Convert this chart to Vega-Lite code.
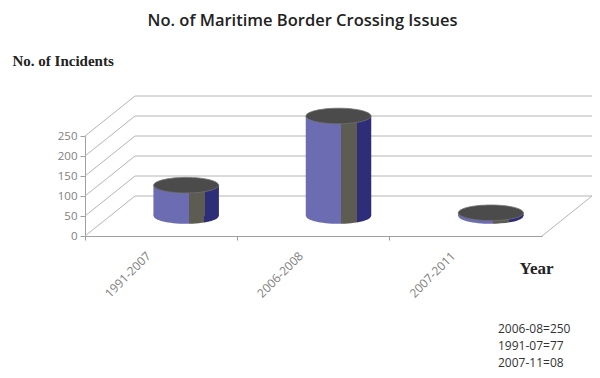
{
  "$schema": "https://vega.github.io/schema/vega-lite/v6.json",
  "width": 457,
  "height": 100,
  "autosize": {"type": "none"},
  "padding": {"left": 85, "top": 136, "right": 58, "bottom": 142},
  "background": "white",
  "title": {
    "text": "No. of Maritime Border Crossing Issues",
    "font": "Open Sans",
    "fontSize": 16.5,
    "fontWeight": 600,
    "color": "#222222",
    "anchor": "middle",
    "dx": -11,
    "offset": 24
  },
  "config": {"view": {"stroke": null}, "axisY": {"labelOverlap": false, "tickCount": 6}},
  "datasets": {
    "incidents": [
      {"period": "1991-2007", "value": 77, "note": "1991-07=77"},
      {"period": "2006-2008", "value": 250, "note": "2006-08=250"},
      {"period": "2007-2011", "value": 8, "note": "2007-11=08"}
    ],
    "levels": [
      {"level": 0}, {"level": 50}, {"level": 100}, {"level": 150}, {"level": 200}, {"level": 250}
    ]
  },
  "data": {"name": "incidents"},
  "layer": [
    {
      "data": {"name": "levels"},
      "mark": {"type": "rule", "color": "#b4b4b4", "strokeWidth": 1, "xOffset": 50, "x2Offset": 50, "yOffset": -40},
      "encoding": {
        "x": {
          "datum": "1991-2007",
          "type": "nominal",
          "bandPosition": 0,
          "scale": {"paddingInner": 0, "paddingOuter": 0},
          "axis": {
            "title": "Year",
            "titleX": 434,
            "titleY": 32,
            "titleAlign": "left",
            "titleBaseline": "middle",
            "titleFont": "Liberation Serif",
            "titleFontSize": 17,
            "titleFontWeight": "bold",
            "titleColor": "#222222",
            "bandPosition": 0,
            "labelAngle": -45,
            "labelAlign": "right",
            "labelBaseline": "top",
            "labelOffset": -16,
            "labelPadding": 10,
            "labelFont": "Open Sans",
            "labelFontSize": 12,
            "labelColor": "#808080",
            "ticks": true,
            "tickSize": 4,
            "tickColor": "#999999",
            "domainColor": "#a0a0a0",
            "grid": false
          }
        },
        "x2": {"datum": "2007-2011", "bandPosition": 1},
        "y": {
          "field": "level",
          "type": "quantitative",
          "scale": {"domain": [0, 250], "nice": false},
          "axis": {
            "tickCount": 6,
            "grid": false,
            "labelOverlap": false,
            "domainColor": "#a0a0a0",
            "tickColor": "#a0a0a0",
            "tickSize": 5,
            "labelColor": "#808080",
            "labelFont": "Open Sans",
            "labelFontSize": 11.5,
            "labelPadding": 3,
            "title": "No. of Incidents",
            "titleAngle": 0,
            "titleX": -73,
            "titleY": -76,
            "titleAlign": "left",
            "titleBaseline": "middle",
            "titleFont": "Liberation Serif",
            "titleFontSize": 15,
            "titleFontWeight": "bold",
            "titleColor": "#222222"
          }
        }
      }
    },
    {
      "data": {"name": "levels"},
      "mark": {"type": "rule", "color": "#b4b4b4", "strokeWidth": 1, "x2Offset": 50, "y2Offset": -40},
      "encoding": {
        "x": {"datum": "1991-2007", "type": "nominal", "bandPosition": 0},
        "x2": {"datum": "1991-2007", "bandPosition": 0},
        "y": {"field": "level", "type": "quantitative"},
        "y2": {"field": "level"}
      }
    },
    {
      "data": {"name": "levels"},
      "transform": [{"filter": "datum.level == 0"}],
      "mark": {"type": "rule", "color": "#b4b4b4", "strokeWidth": 1, "x2Offset": 50, "y2Offset": -40},
      "encoding": {
        "x": {"datum": "2007-2011", "type": "nominal", "bandPosition": 1},
        "x2": {"datum": "2007-2011", "bandPosition": 1},
        "y": {"field": "level", "type": "quantitative"},
        "y2": {"field": "level"}
      }
    },
    {
      "mark": {
        "type": "point",
        "shape": "M-1,0A1,0.24 0 1,0 1,0A1,0.24 0 1,0 -1,0Z",
        "size": 4225,
        "filled": true,
        "opacity": 1,
        "strokeWidth": 0,
        "xOffset": 25,
        "yOffset": -20,
        "fill": {
          "gradient": "linear", "x1": 0, "x2": 1, "y1": 0, "y2": 0,
          "stops": [
            {"offset": 0, "color": "#6c6cb2"},
            {"offset": 0.54, "color": "#6c6cb2"},
            {"offset": 0.54, "color": "#5c5c52"},
            {"offset": 0.78, "color": "#5c5c52"},
            {"offset": 0.78, "color": "#2e2e78"},
            {"offset": 1, "color": "#2e2e78"}
          ]
        }
      },
      "encoding": {
        "x": {"field": "period", "type": "nominal"},
        "y": {"datum": 0, "type": "quantitative"}
      }
    },
    {
      "mark": {
        "type": "bar",
        "width": {"band": 0.43},
        "xOffset": 25,
        "yOffset": -20,
        "y2Offset": -20,
        "fill": {
          "gradient": "linear", "x1": 0, "x2": 1, "y1": 0, "y2": 0,
          "stops": [
            {"offset": 0, "color": "#6c6cb2"},
            {"offset": 0.54, "color": "#6c6cb2"},
            {"offset": 0.54, "color": "#5c5c52"},
            {"offset": 0.78, "color": "#5c5c52"},
            {"offset": 0.78, "color": "#2e2e78"},
            {"offset": 1, "color": "#2e2e78"}
          ]
        }
      },
      "encoding": {
        "x": {"field": "period", "type": "nominal"},
        "y": {"field": "value", "type": "quantitative"}
      }
    },
    {
      "mark": {
        "type": "point",
        "shape": "M-1,0A1,0.24 0 1,0 1,0A1,0.24 0 1,0 -1,0Z",
        "size": 4225,
        "filled": true,
        "opacity": 1,
        "fill": "#4b4b4b",
        "stroke": "#707070",
        "strokeWidth": 0.8,
        "xOffset": 25,
        "yOffset": -20
      },
      "encoding": {
        "x": {"field": "period", "type": "nominal"},
        "y": {"field": "value", "type": "quantitative"}
      }
    },
    {
      "mark": {"type": "point", "opacity": 0},
      "encoding": {
        "x": {"field": "period", "type": "nominal"},
        "y": {"field": "value", "type": "quantitative"},
        "color": {
          "field": "note",
          "type": "nominal",
          "sort": {"field": "value", "op": "sum", "order": "descending"},
          "legend": {
            "orient": "none",
            "legendX": 401,
            "legendY": 187,
            "title": null,
            "symbolSize": 0,
            "symbolOpacity": 0,
            "symbolStrokeWidth": 0,
            "labelOffset": 0,
            "labelFont": "Open Sans",
            "labelFontSize": 12,
            "labelColor": "#333333",
            "rowPadding": 5,
            "padding": 0
          }
        }
      }
    }
  ]
}
